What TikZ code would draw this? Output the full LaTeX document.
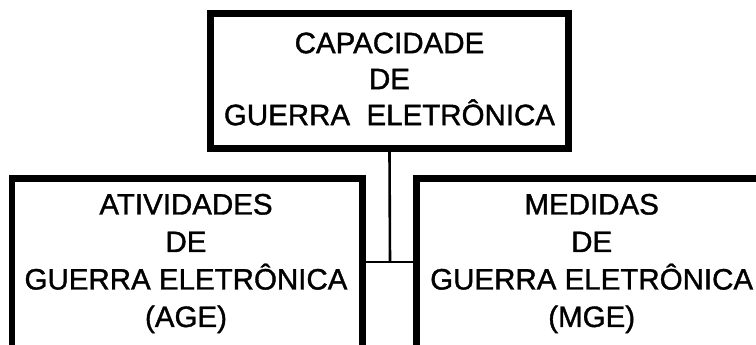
\documentclass[tikz,border=0pt]{standalone}
\usepackage{fontspec}
\setmainfont[FakeBold=1.2]{Liberation Sans}
\begin{document}
\begin{tikzpicture}[x=1pt,y=-1pt,
  box/.style={draw=black, line width=6.5pt, rectangle, inner sep=0pt, minimum width=#1},
  label/.style={inner sep=0pt, align=center, text=black},
  topfont/.style={font=\fontsize{29.5}{36}\selectfont},
  lowfont/.style={font=\fontsize{29.5}{37.5}\selectfont},
  link/.style={draw=black, line width=2.6pt}]
\useasboundingbox (0,0) rectangle (756,345);
\clip (0,0) rectangle (756,345);
\fill[white] (0,0) rectangle (756,345);
% boxes
\node[box=358pt, minimum height=135pt] (top) at (389.5,81) {};
\node[box=350.4pt, minimum height=172pt] (left) at (187.2,264.7) {};
\node[box=350.4pt, minimum height=172pt] (right) at (591.5,264.7) {};
% texts
\node[label, topfont] (toptext) at (389.5,79) {CAPACIDADE\\DE\\GUERRA\ \ ELETRÔNICA};
\node[label, lowfont] (lefttext) at (186,263.5) {ATIVIDADES\\DE\\GUERRA ELETRÔNICA\\(AGE)};
\node[label, lowfont] (righttext) at (591.7,263.5) {MEDIDAS\\DE\\GUERRA ELETRÔNICA\\(MGE)};
% connectors
\coordinate (j) at (390,262);
\draw[link] (top.south) -- (j);
\draw[link] (left.east |- j) -- (right.west |- j);
\end{tikzpicture}
\end{document}
